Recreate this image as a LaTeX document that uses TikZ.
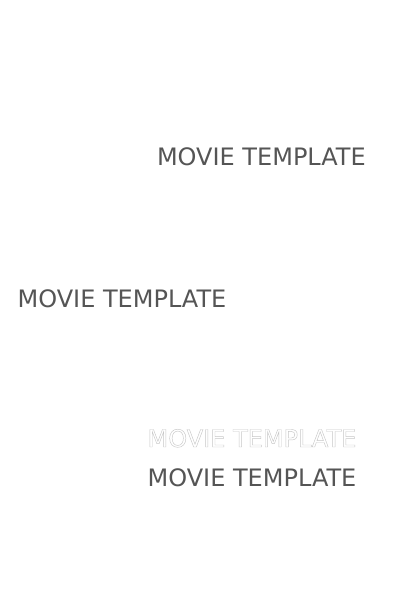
\documentclass[tikz,border=0pt]{standalone}
\usepackage{fontspec}
\setmainfont{DejaVu Sans}
\usepackage{tikz}
\definecolor{titlegray}{HTML}{555555}
\newcommand{\hollowtext}[1]{\special{pdf:literal direct 2 Tr 0.45 w 0.78 0.78 0.78 RG}#1\special{pdf:literal direct 0 Tr}}
\tikzset{
    x=1pt, y=-1pt, % one unit is one pixel of the reference, y grows downwards
    title/.style={anchor=base west, inner sep=0pt, text=titlegray, font=\fontsize{24}{28}\selectfont}, % the grey heading text
    hollow/.style={title, text=white}, % the outlined copy
}

\begin{document}
\begin{tikzpicture}
                  \useasboundingbox (0,0) rectangle (400,600);
                  \node[title] (movieA) at (156.8,165) {MOVIE TEMPLATE};
                  \node[title] (movieB) at (17.4,307) {MOVIE TEMPLATE};
                  \node[hollow] (movieC) at (147.4,447) {\hollowtext{MOVIE TEMPLATE}};
                  \node[title] (movieD) at (147.4,486.5) {MOVIE TEMPLATE};
              \end{tikzpicture}
\end{document}
